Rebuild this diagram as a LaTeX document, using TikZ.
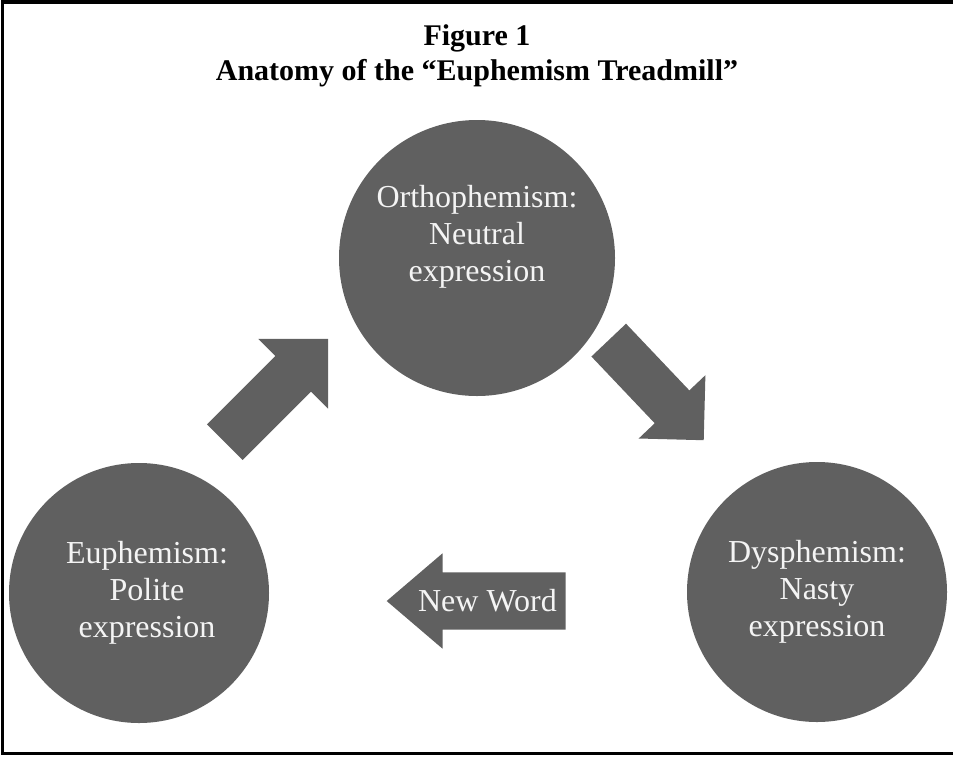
\documentclass[tikz,border=0pt]{standalone}
\usepackage{fontspec}
\setmainfont{Liberation Serif}
\usepackage{tikz}
\usetikzlibrary{shapes.arrows}
\definecolor{bubblegray}{RGB}{96,96,96}
\definecolor{softwhite}{RGB}{244,244,244}
\tikzset{
	bubblestyle/.style={circle,fill=bubblegray,inner sep=0pt},
	wordstyle/.style={align=center,text=softwhite,font=\fontsize{32}{37}\selectfont},
	titlestyle/.style={align=center,text=black,font=\bfseries\fontsize{30}{35}\selectfont},
	arrowstyle/.style={single arrow,fill=bubblegray,inner xsep=0pt,single arrow tip angle=90}
}

\begin{document}
\begin{tikzpicture}[x=1pt,y=-1pt]
	\useasboundingbox (0,0) rectangle (953,756);
	\draw[line width=3.5pt] (953,2) -- (2.5,2) -- (2.5,753.5) -- (953,753.5);
	\node[titlestyle] (title) at (477,56) {Figure 1\\Anatomy of the “Euphemism Treadmill”};
	\node[bubblestyle,minimum size=276pt] (ortho) at (477,258) {};
	\node[bubblestyle,minimum size=260pt] (euph) at (139,593) {};
	\node[bubblestyle,minimum size=260pt] (dysph) at (817,592) {};
	\node[wordstyle] (orthotext) at ([yshift=21pt]ortho.center) {Orthophemism:\\Neutral\\expression};
	\node[wordstyle] (euphtext) at ([xshift=8pt]euph.center) {Euphemism:\\Polite\\expression};
	\node[wordstyle] (dysphtext) at (dysph.center) {Dysphemism:\\Nasty\\expression};
	\node[arrowstyle,rotate=45,inner ysep=25pt,minimum height=146pt,minimum width=98pt,single arrow head extend=24pt] (up) at (267.5,399.5) {};
	\node[arrowstyle,rotate=-46.5,inner ysep=23.5pt,minimum height=138pt,minimum width=92pt,single arrow head extend=22pt] (down) at (648,381.5) {};
	\node[arrowstyle,shape border rotate=180,single arrow tip angle=81,inner ysep=28.5pt,minimum height=179pt,minimum width=95pt,single arrow head extend=19pt] (newword) at (493,601) {};
	\node[wordstyle,text height=20pt,text depth=0pt] (newwordtext) at (487.5,601) {New Word};
\end{tikzpicture}
\end{document}
